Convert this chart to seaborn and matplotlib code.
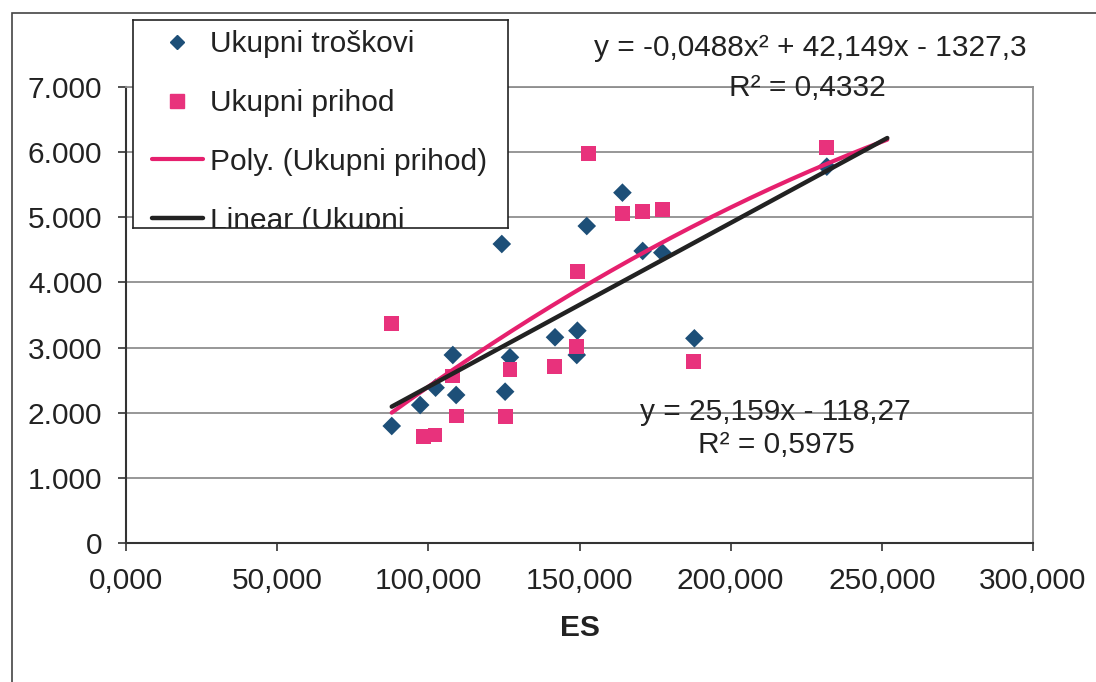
import numpy as np
import matplotlib
matplotlib.use("Agg")
import matplotlib.pyplot as plt
from matplotlib.lines import Line2D
from matplotlib.ticker import FuncFormatter, MultipleLocator
import seaborn as sns

# ES vs. total costs / total revenue
es_troskovi = [87.9, 97.3, 102.4, 108.1, 109.2, 124.3, 125.4, 127.0, 141.9,
               149.1, 149.3, 152.4, 164.2, 170.9, 177.4, 188.0, 231.8]
ukupni_troskovi = [1796, 2118, 2384, 2886, 2272, 4590, 2323, 2851, 3158,
                   2886, 3259, 4866, 5378, 4483, 4457, 3142, 5777]

es_prihod = [87.9, 98.4, 102.2, 108.1, 109.2, 125.4, 127.0, 141.7, 149.1,
             149.3, 152.9, 164.2, 170.9, 177.5, 187.7, 231.8]
ukupni_prihod = [3373, 1632, 1658, 2564, 1950, 1939, 2667, 2707, 3014,
                 4166, 5982, 5061, 5087, 5122, 2784, 6074]

# trendline coefficients as printed on the chart
poly_coef = [-0.0488, 42.149, -1327.3]
lin_coef = [25.159, -118.27]
forecast_forward = 20

c_blue = "#1d4f78"
c_pink = "#e8327c"
c_pink_line = "#e6206e"
c_black = "#222222"

sns.set_theme(style="white")
plt.rcParams["font.family"] = ["Liberation Sans", "DejaVu Sans"]
FS = 21.5

fig = plt.figure(figsize=(10.96, 6.82), dpi=100)
ax = fig.add_axes([126 / 1096, 1 - 543 / 682, (1033 - 126) / 1096, (543 - 87) / 682])

sns.scatterplot(x=es_troskovi, y=ukupni_troskovi, marker="D", s=90, color=c_blue,
                edgecolor="none", ax=ax, zorder=3)
sns.scatterplot(x=es_prihod, y=ukupni_prihod, marker="s", s=115, color=c_pink,
                edgecolor="none", ax=ax, zorder=3)

# trendlines (Excel style, forecast 20 units forward)
xp = np.linspace(min(es_prihod), max(es_prihod) + forecast_forward, 200)
xl = np.linspace(min(es_troskovi), max(es_troskovi) + forecast_forward, 2)
sns.lineplot(x=xp, y=np.polyval(poly_coef, xp), color=c_pink_line, lw=3, ax=ax, zorder=4)
sns.lineplot(x=xl, y=np.polyval(lin_coef, xl), color=c_black, lw=3.2, ax=ax, zorder=5)

ax.set_xlim(0, 300)
ax.set_ylim(0, 7000)
ax.xaxis.set_major_locator(MultipleLocator(50))
ax.yaxis.set_major_locator(MultipleLocator(1000))
ax.xaxis.set_major_formatter(FuncFormatter(lambda v, p: f"{v:.3f}".replace(".", ",")))
ax.yaxis.set_major_formatter(FuncFormatter(lambda v, p: f"{int(v):,}".replace(",", ".")))
ax.tick_params(axis="both", which="major", direction="out", length=6, width=1.2,
               color="#333333", labelsize=FS, labelcolor="#222222", pad=11,
               left=True, bottom=True)
ax.yaxis.grid(True, color="#8f8f8f", lw=1.3)
ax.xaxis.grid(False)
ax.set_axisbelow(True)
for s in ["top", "right"]:
    ax.spines[s].set_color("#8f8f8f")
    ax.spines[s].set_linewidth(1.3)
for s in ["left", "bottom"]:
    ax.spines[s].set_color("#333333")
    ax.spines[s].set_linewidth(1.5)
ax.set_xlabel("ES", fontsize=FS, fontweight="bold", color="#222222", labelpad=14)
ax.set_ylabel("")

# trendline equations (positions in pixels, top-left origin)
eq_texts = [
    (810, 48, "y = -0,0488x² + 42,149x - 1327,3"),
    (807, 88, "R² = 0,4332"),
    (775, 412, "y = 25,159x - 118,27"),
    (776, 445, "R² = 0,5975"),
]
for px, py, s in eq_texts:
    fig.text(px / 1096, 1 - py / 682, s, fontsize=FS, ha="center", va="center",
             color="#222222", zorder=6)

# legend box (clipped like in the original)
lax = fig.add_axes([133 / 1096, 1 - 228 / 682, (508 - 133) / 1096, (228 - 20) / 682])
lax.set_xticks([])
lax.set_yticks([])
lax.set_facecolor("white")
for s in lax.spines.values():
    s.set_color("#222222")
    s.set_linewidth(1.2)
handles = [
    Line2D([], [], marker="D", ls="none", color=c_blue, markersize=7),
    Line2D([], [], marker="s", ls="none", color=c_pink, markersize=10),
    Line2D([], [], color=c_pink_line, lw=3),
    Line2D([], [], color=c_black, lw=3.2),
]
labels = ["Ukupni troškovi", "Ukupni prihod", "Poly. (Ukupni prihod)", "Linear (Ukupni"]
leg = lax.legend(handles, labels, loc="upper left", bbox_to_anchor=(0.05, 0.95),
                 frameon=False, fontsize=FS, borderpad=0, borderaxespad=0,
                 handlelength=1.7, handletextpad=0.25, labelspacing=1.03,
                 labelcolor="#222222")
for t in leg.get_texts():
    t.set_clip_box(lax.bbox)
    t.set_clip_on(True)
for h in leg.legend_handles:
    h.set_clip_box(lax.bbox)
    h.set_clip_on(True)

# outer chart border
fig.patches.append(plt.Rectangle((12 / 1096, -0.05), 1.2, 1 - 13 / 682 + 0.05,
                                 transform=fig.transFigure, fill=False,
                                 ec="#444444", lw=1.2))

fig.savefig("out.png", dpi=100)
